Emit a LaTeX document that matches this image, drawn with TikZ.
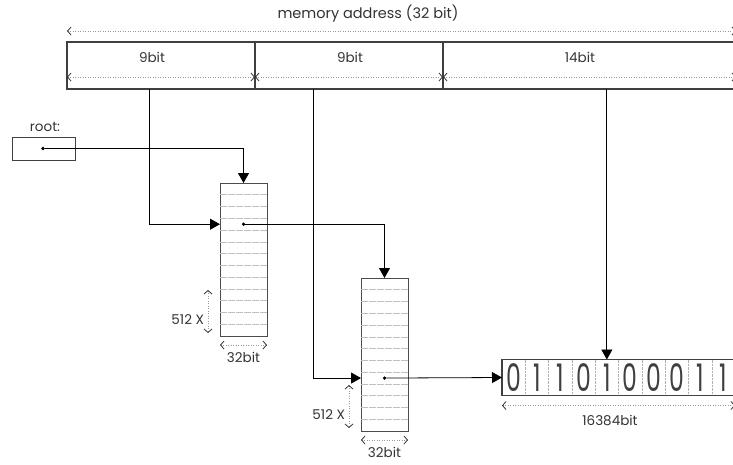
\documentclass[tikz,border=0pt]{standalone}
\usepackage{fontspec}
\setmainfont{Poppins}
\newfontfamily\bitfont[FakeStretch=0.62]{Poppins}
\usetikzlibrary{arrows.meta, positioning, calc}

\begin{document}
\begin{tikzpicture}[x=1pt, y=-1pt,
    every node/.style={font=\fontsize{13.5}{15}\selectfont, text=black!80, inner sep=0pt, outer sep=0pt},
    field/.style={draw=black!75, line width=1.1pt, minimum height=47pt, anchor=north west},
    pagetable/.style={draw=black!70, line width=0.9pt, minimum width=47pt, minimum height=153pt, anchor=north west},
    rowline/.style={draw=black!25, line width=0.6pt, dash pattern=on 7pt off 1pt},
    bitcell/.style={draw=black!30, densely dotted, minimum width=23.3pt, minimum height=36pt,
        font=\bitfont\fontsize{38}{38}\selectfont, text=black!75},
    ptr/.style={circle, fill=black, minimum size=3.6pt},
    link/.style={draw=black, line width=0.8pt, -{Triangle[length=10pt, width=11pt]}},
    dim/.style={draw=black!40, dotted, line width=0.5pt,
        {Straight Barb[length=3.5pt, width=8pt, color=black!80, line width=0.8pt]}-{Straight Barb[length=3.5pt, width=8pt, color=black!80, line width=0.8pt]}}]
    \useasboundingbox (0,0) rectangle (733,464);
    \clip (0,0) rectangle (733,464);

    % address fields
    \node[font=\fontsize{14.5}{16}\selectfont] at (368,14) {memory address (32 bit)};
    \node[field, minimum width=188pt] (seg1) at (67,42) {};
    \node[field, minimum width=188pt] (seg2) at (255,42) {};
    \node[field, minimum width=293pt] (seg3) at (443,42) {};
    \node at (152,57) {9bit};
    \node at (350,57) {9bit};
    \node at (580,57) {14bit};
    \draw[dim] ([yshift=11pt]seg1.north west) -- ([yshift=11pt]seg3.north east);
    \foreach \s in {seg1,seg2,seg3}
        \draw[dim] ([yshift=12pt]\s.south west) -- ([yshift=12pt]\s.south east);

    % root pointer
    \node at (45,127) {root:};
    \node[draw=black!75, line width=0.8pt, minimum width=63pt, minimum height=23pt, anchor=north west] (root) at (12,137) {};
    \node[ptr] (p0) at (43,148.5) {};

    % page tables
    \node[pagetable] (t1) at (220,183) {};
    \node[pagetable] (t2) at (361,278) {};
    \foreach \t in {t1,t2}
        \foreach \i in {1,...,12}
            \draw[rowline] ([yshift=-\i*11.77pt]\t.north west) -- ([yshift=-\i*11.77pt]\t.north east);
    \node[ptr] (p1) at ([yshift=-3.5*11.77pt]t1.north) {};
    \node[ptr] (p2) at ([yshift=-8.5*11.77pt]t2.north) {};
    \foreach \t in {t1,t2} {
        \draw[dim] ([xshift=-12pt, yshift=46pt]\t.south west) -- ([xshift=-12pt, yshift=3pt]\t.south west);
        \node[anchor=east] at ([xshift=-16pt, yshift=16pt]\t.south west) {512 X};
        \draw[dim] ([yshift=-9pt]\t.south west) -- ([yshift=-9pt]\t.south east);
        \node at ([yshift=-21pt]\t.south) {32bit};
    }

    % page bits
    \foreach \b [count=\i] in {0,1,1,0,1,0,0,0,1,1}
        \node[bitcell] (c\i) at ({502+(\i-0.5)*23.3}, 377.5) {\b};
    \draw[draw=black!75, line width=1.1pt] (c1.north west) rectangle (c10.south east);
    \draw[dim] ([yshift=-10pt]c1.south west) -- ([yshift=-10pt]c10.south east);
    \node at (610,420) {16384bit};

    % pointers
    \draw[link] (p0) -| (t1.north);
    \draw[link] (p1) -| (t2.north);
    \draw[link] (p2) -- (c1.west);
    \draw[link] ([xshift=-12pt]seg1.south) |- (t1.west |- p1);
    \draw[link] ([xshift=-36pt]seg2.south) |- (t2.west |- p2);
    \draw[link] (c5.north |- seg3.south) -- (c5.north);
\end{tikzpicture}
\end{document}
